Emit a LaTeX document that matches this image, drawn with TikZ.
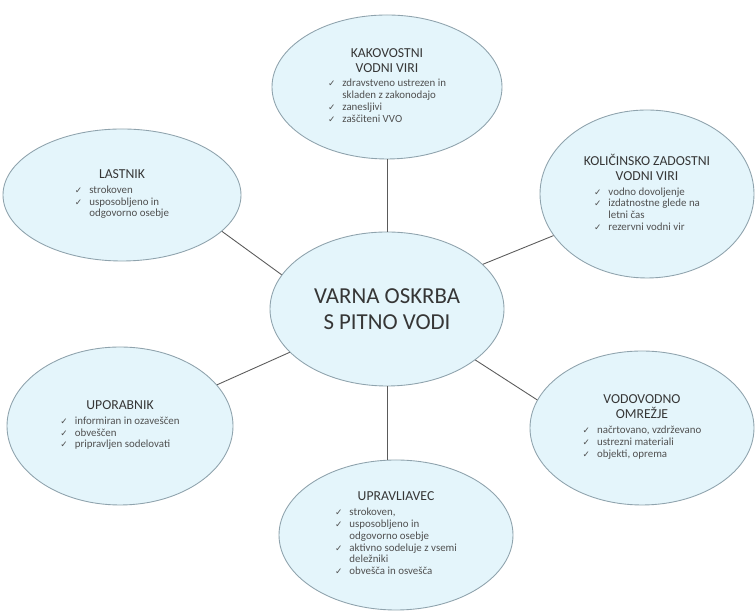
\documentclass[tikz,border=0pt]{standalone}
\usepackage{fontspec}
\setmainfont{Carlito}
\newfontfamily\ckfont{DejaVu Sans}
\usetikzlibrary{shapes.geometric}
\definecolor{bub}{HTML}{E4F5FB}
\definecolor{rimgray}{HTML}{8FA3AD}
\definecolor{linkgray}{HTML}{5A5A5A}
\definecolor{titlegray}{HTML}{363636}
\definecolor{itemgray}{HTML}{505050}
\newcommand{\ck}{{\color{itemgray}\ckfont\fontsize{5}{5}\selectfont ✓}}
\newcommand{\checklist}[1]{{\fontsize{6.2}{6.7}\selectfont\color{itemgray}\begin{tabular}[t]{@{}l@{\hspace{4pt}}l@{}}#1\end{tabular}}}
\begin{document}
\begin{tikzpicture}[
	bubble/.style={ellipse, draw=rimgray, line width=0.5pt, fill=bub, inner sep=0pt,
		align=center, text=titlegray, font=\fontsize{7.8}{8.5}\selectfont},
	link/.style={draw=linkgray, line width=0.5pt}]
	\useasboundingbox (0,0) rectangle (15.1,12.28);
	\node[bubble, minimum width=4.68cm, minimum height=3.08cm, font=\fontsize{13}{14.5}\selectfont] (oskrba) at (7.74,6.10) {VARNA OSKRBA\\S PITNO VODI};
	\node[bubble, minimum width=4.6cm, minimum height=2.88cm] (kakovost) at (7.74,10.54) {KAKOVOSTNI\\VODNI VIRI\\\checklist{\ck & zdravstveno ustrezen in\\ & skladen z zakonodajo\\ \ck & zanesljivi\\ \ck & zaščiteni VVO}};
	\node[bubble, minimum width=4.76cm, minimum height=2.64cm] (lastnik) at (2.44,8.38) {LASTNIK\\\checklist{\ck & strokoven\\ \ck & usposobljeno in\\ & odgovorno osebje}};
	\node[bubble, minimum width=4.28cm, minimum height=3.36cm] (kolicina) at (12.94,8.40) {KOLIČINSKO ZADOSTNI\\VODNI VIRI\\\checklist{\ck & vodno dovoljenje\\ \ck & izdatnostne glede na\\ & letni čas\\ \ck & rezervni vodni vir}};
	\node[bubble, minimum width=4.52cm, minimum height=3.16cm] (uporabnik) at (2.40,3.76) {UPORABNIK\\\checklist{\ck & informiran in ozaveščen\\ \ck & obveščen\\ \ck & pripravljen sodelovati}};
	\node[bubble, minimum width=4.48cm, minimum height=3.08cm] (omrezje) at (12.84,3.72) {VODOVODNO\\OMREŽJE\\\checklist{\ck & načrtovano, vzdrževano\\ \ck & ustrezni materiali\\ \ck & objekti, oprema}};
	\node[bubble, minimum width=4.68cm, minimum height=3.0cm] (upravljavec) at (7.92,1.58) {UPRAVLIAVEC\\\checklist{\ck & strokoven,\\ \ck & usposobljeno in\\ & odgovorno osebje\\ \ck & aktivno sodeluje z vsemi\\ & deležniki\\ \ck & obvešča in osvešča}};
	\draw[link] (oskrba.90) -- (kakovost.-90);
	\draw[link] (oskrba.-90) -- (upravljavec.north -| oskrba.-90);
	\draw[link] (oskrba.162) -- (lastnik.-20);
	\draw[link] (oskrba.25) -- (kolicina.-156);
	\draw[link] (oskrba.-156) -- (uporabnik.23);
	\draw[link] (oskrba.-30) -- (omrezje.165);
\end{tikzpicture}
\end{document}
